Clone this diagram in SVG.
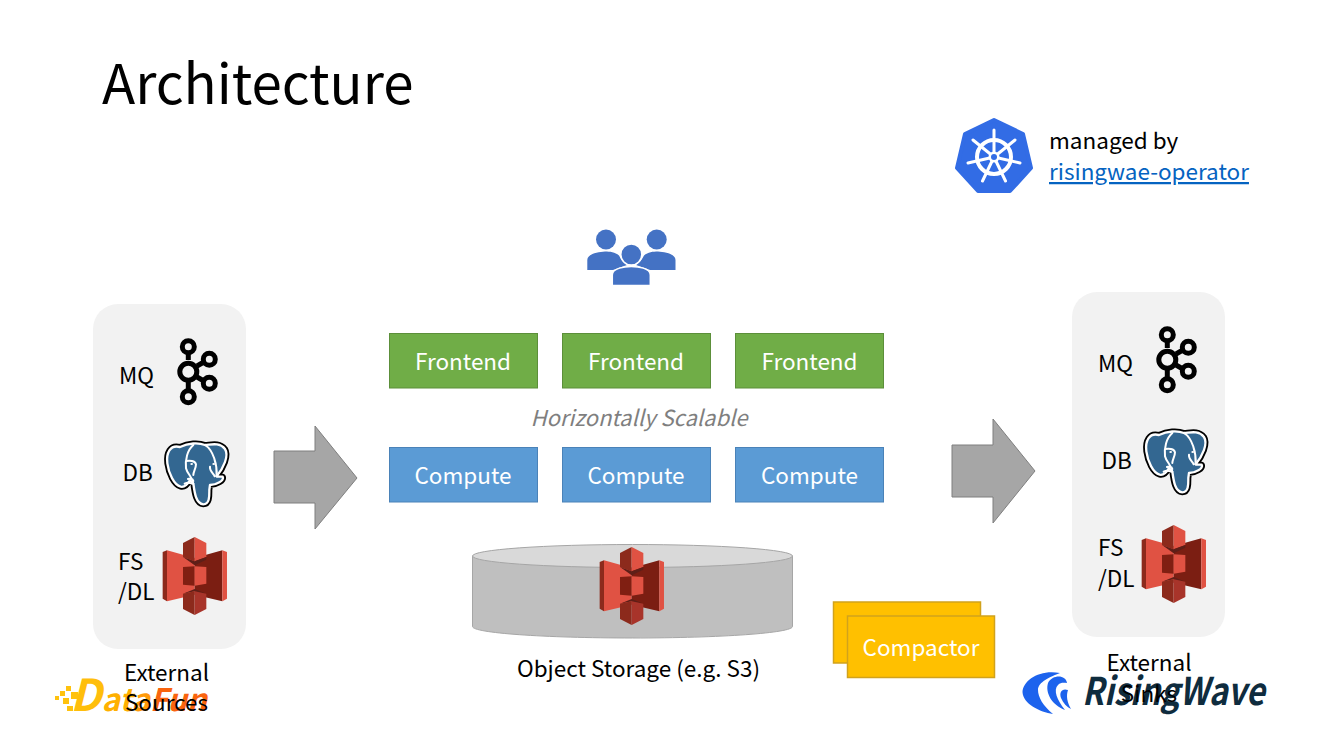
<svg xmlns="http://www.w3.org/2000/svg" width="1334" height="750" viewBox="0 0 1334 750">
<style>
text{font-family:"Noto Sans CJK SC","Noto Sans",sans-serif;font-size:22.5px;fill:#000}
.w{fill:#fff;text-anchor:middle}
.c{text-anchor:middle}
.panel{fill:#f2f2f2}
.fe{fill:#70ad47;stroke:#5c8f3a;stroke-width:1}
.co{fill:#5b9bd5;stroke:#4a82b8;stroke-width:1}
.cp{fill:#ffc000;stroke:#d1a21c;stroke-width:1.5}
.arrow{fill:#a6a6a6;stroke:#7f7f7f;stroke-width:1}
.k{fill:none;stroke:#000;stroke-width:5}
</style>
<defs>
<g id="s3" transform="scale(.3333)">
<polygon fill="#8c2a1c" points="14,57 27,52 27,205 14,197"/>
<polygon fill="#e05243" points="27,52 110,75 110,185 27,205"/>
<polygon fill="#7b1e12" points="193,52 110,75 110,185 193,205"/>
<polygon fill="#e05243" points="193,52 207,57 207,197 193,205"/>
<polygon fill="#8c2a1c" points="75,30 110,12 110,85 75,72"/>
<polygon fill="#e05243" points="110,12 145,30 145,72 110,85"/>
<polygon fill="#5e1f18" points="75,72 110,85 145,72 145,80 110,97"/>
<polygon fill="#801f12" points="75,102 110,100 110,158 75,155"/>
<polygon fill="#e05243" points="110,100 145,102 145,152 110,158"/>
<polygon fill="#5e1f18" points="75,182 110,168 145,182 110,175"/>
<polygon fill="#8c2a1c" points="75,182 110,175 110,246 75,228"/>
<polygon fill="#a8342a" points="110,175 145,182 145,228 110,246"/>
</g>
<g id="kafka">
<path class="k" d="M188.300 354V360M188.300 382V390M197 366L203 362.500M197 377L203 380.500"/>
<circle class="k" cx="188.300" cy="346.700" r="6"/>
<circle class="k" cx="188.300" cy="371.700" r="8.500"/>
<circle class="k" cx="188.300" cy="396.700" r="6"/>
<circle class="k" cx="209.300" cy="359.300" r="6"/>
<circle class="k" cx="209.300" cy="383.300" r="6"/>
</g>
<path id="pgbody" d="M60 36C30 28 18 55 22 85C26 115 42 150 62 155C76 158 84 146 90 135L100 146C104 175 108 206 130 208C150 208 148 180 148 165L150 150C168 150 195 136 188 125C178 124 172 126 170 124C190 100 208 62 195 42C178 20 150 30 135 30C115 22 85 24 60 36Z"/>
<g id="pg" transform="scale(.3333)">
<use href="#pgbody" fill="#000" stroke="#000" stroke-width="18" stroke-linejoin="round"/>
<use href="#pgbody" fill="#336791" stroke="#fff" stroke-width="7" stroke-linejoin="round"/>
<path fill="none" stroke="#fff" stroke-width="6" stroke-linecap="round" d="M100 30C82 45 75 75 78 100C82 118 98 125 100 146M135 30C160 45 172 90 170 124M84 132C92 128 98 132 100 138M74 146C85 140 92 144 96 146M150 95C148 108 162 118 164 124M78 78C88 76 106 76 108 88C108 100 100 110 100 120"/>
<ellipse cx="95" cy="87" rx="4" ry="3" fill="#fff"/><ellipse cx="161" cy="87" rx="4" ry="3" fill="#fff"/>
</g>
</defs>

<text x="102" y="104" style="font-size:54.6px">Architecture</text>

<g id="kubernetes">
<polygon fill="#326ce5" stroke="#326ce5" stroke-width="4" stroke-linejoin="round" points="994,120 1023,134 1031,168 1010,191 978,191 957,168 965,134"/>
<circle cx="994" cy="157" r="17" fill="none" stroke="#fff" stroke-width="4"/>
<path stroke="#fff" stroke-width="3" stroke-linecap="round" d="M994 157V130M994 157L1015 140M994 157L1020 163M994 157L1005.500 181M994 157L982.500 181M994 157L968 163M994 157L973 140"/>
<circle cx="994" cy="157" r="5.500" fill="#fff"/>
<circle cx="994" cy="157" r="3" fill="#326ce5"/>
<text x="1049" y="149">managed by</text>
<text x="1049" y="180" style="fill:#0563c1;text-decoration:underline">risingwae-operator</text>
</g>

<g id="users" fill="#4472c4">
<circle cx="606" cy="239.500" r="10"/>
<circle cx="656.700" cy="239.500" r="10"/>
<path d="M587.300 270V260C587.300 254 598 252 605 251.500C610 251.500 615 252 619 255.500C621 260 624 263 627 265L613 270Z"/>
<path d="M675.500 270V260C675.500 254 665 252 658 251.500C653 251.500 648 252 644 255.500C642 260 639 263 636 265L650 270Z"/>
<circle cx="631.300" cy="254.500" r="10.500" stroke="#fff" stroke-width="1.500"/>
<path stroke="#fff" stroke-width="1.500" d="M612.300 285.500V275C612.300 268 625 266.500 631.300 266.500C638 266.500 650.300 268 650.300 275V285.500Z"/>
</g>

<g id="source-panel">
<rect class="panel" x="93" y="304" width="153" height="345" rx="25"/>
<text x="119" y="384">MQ</text><use href="#kafka"/>
<text x="122.500" y="481">DB</text><g transform="translate(160,435)"><use href="#pg"/></g>
<text x="118" y="570">FS</text><text x="118" y="600">/DL</text><g transform="translate(158,533)"><use href="#s3"/></g>
</g>
<g id="sink-panel">
<rect class="panel" x="1072" y="292" width="153" height="345" rx="25"/>
<text x="1098" y="372">MQ</text><g transform="translate(979,-12)"><use href="#kafka"/></g>
<text x="1101.500" y="469">DB</text><g transform="translate(1139,423)"><use href="#pg"/></g>
<text x="1098" y="556">FS</text><text x="1098" y="587">/DL</text><g transform="translate(1137,521)"><use href="#s3"/></g>
</g>

<g id="connectors">
<polygon class="arrow" points="274,451 315,451 315,426 357,478 315,529 315,503 274,503"/>
<polygon class="arrow" points="952,445 993,445 993,419 1035,471 993,523 993,497 952,497"/>
</g>

<g id="frontend-1"><rect class="fe" x="389.500" y="333.500" width="148" height="54.500"/><text class="w" x="463" y="369.500">Frontend</text></g>
<g id="frontend-2"><rect class="fe" x="562.500" y="333.500" width="148" height="54.500"/><text class="w" x="636" y="369.500">Frontend</text></g>
<g id="frontend-3"><rect class="fe" x="735.500" y="333.500" width="148" height="54.500"/><text class="w" x="809.500" y="369.500">Frontend</text></g>
<text class="c" x="639" y="426" style="font-style:italic;fill:#7f7f7f;font-size:22px">Horizontally Scalable</text>
<g id="compute-1"><rect class="co" x="389.500" y="447.500" width="148" height="54.500"/><text class="w" x="463" y="483.500">Compute</text></g>
<g id="compute-2"><rect class="co" x="562.500" y="447.500" width="148" height="54.500"/><text class="w" x="636" y="483.500">Compute</text></g>
<g id="compute-3"><rect class="co" x="735.500" y="447.500" width="148" height="54.500"/><text class="w" x="809.500" y="483.500">Compute</text></g>

<g id="object-storage">
<path fill="#bfbfbf" stroke="#a6a6a6" stroke-width="1" d="M472.500 556V626.500C472.500 633 544 638 632.500 638C721 638 792.500 633 792.500 626.500V556Z"/>
<ellipse cx="632.500" cy="556" rx="160" ry="11.500" fill="#d9d9d9" stroke="#a6a6a6" stroke-width="1"/>
<g transform="translate(595,543)"><use href="#s3"/></g>
<text class="c" x="638.500" y="677">Object Storage (e.g. S3)</text>
</g>

<g id="compactor">
<rect class="cp" x="833.500" y="602" width="147" height="61"/>
<rect class="cp" x="847.500" y="616" width="147" height="61.500"/>
<text class="w" x="921" y="656">Compactor</text>
</g>

<g id="datafun-logo">
<g fill="#ffc20e"><rect x="55" y="696" width="4" height="4"/><rect x="60" y="691" width="5" height="5"/><rect x="66" y="686" width="5" height="5"/><rect x="63" y="698" width="6" height="6"/><rect x="71" y="692" width="7" height="7"/><rect x="67" y="706" width="6" height="5"/></g>
<text x="70" y="711" style="font-size:31px;font-weight:700;font-style:italic;fill:#ffb000"><tspan style="font-size:44px;fill:#ffbe0b">D</tspan><tspan>at</tspan><tspan style="fill:#ff9a0a">a</tspan><tspan style="fill:#f9640f">Fun</tspan></text>
</g>
<g id="risingwave-logo">
<path fill="#1d63ed" d="M1060 673C1040 669 1023 680 1022.500 692C1023 704 1040 712 1053 714C1043 706 1038 697 1038 690C1038 682 1050 677 1060 673Z"/>
<path fill="#1d63ed" d="M1067 683C1066 675 1053 674 1048 683C1045 693 1052 705 1065 710C1057 700 1053 690 1058 685C1061 682 1064 683 1067 683Z"/>
<path fill="#1d63ed" d="M1068 690C1062 688 1059 692 1061 698C1063 703 1067 707 1071 709C1067 702 1066 696 1068 690Z"/>
<text transform="translate(1082,705) scale(.85,1)" style="font-size:38px;font-weight:700;font-style:italic;fill:#0f2c3e">RisingWave</text>
</g>

<g id="external-labels">
<text class="c" x="166.500" y="681">External</text><text class="c" x="166.500" y="711">Sources</text>
<text class="c" x="1149" y="671">External</text><text class="c" x="1149" y="702">Sinks</text>
</g>
</svg>
